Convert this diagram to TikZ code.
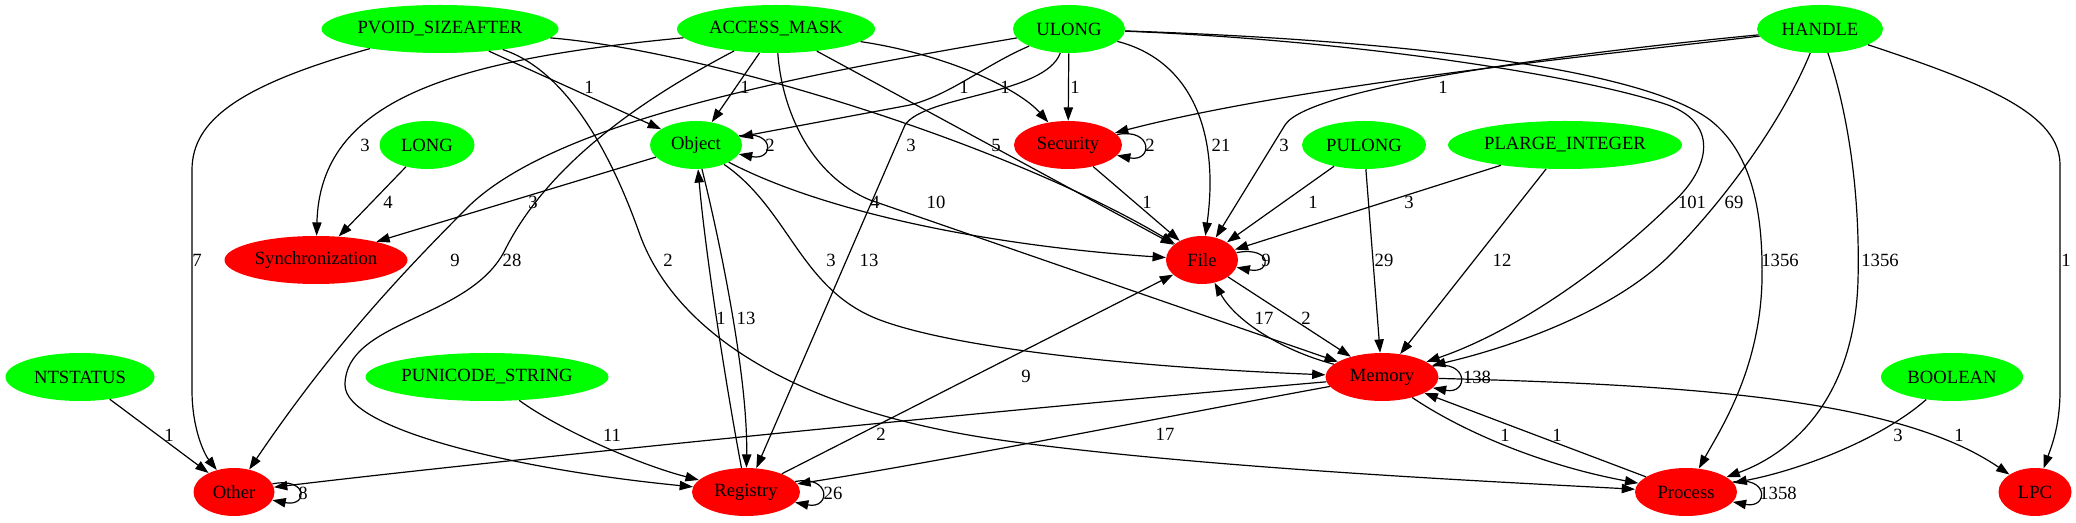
\documentclass[tikz,border=0pt]{standalone}
\usepackage{fontspec}
\setmainfont{Liberation Serif}
\usetikzlibrary{arrows.meta,shapes.geometric}
\definecolor{gvgreen}{RGB}{0,255,0}
\definecolor{gvred}{RGB}{255,0,0}
\begin{document}
\begin{tikzpicture}[x=0.75pt,y=-0.75pt,
  every node/.style={font=\rmfamily\fontsize{14}{16}\selectfont},
  tnode/.style={ellipse, inner sep=0pt, minimum height=36pt},
  src/.style={tnode, fill=gvgreen},
  cat/.style={tnode, fill=gvred},
  e/.style={line width=0.9pt, -{Triangle[length=10pt,width=7pt]}},
  lbl/.style={inner sep=0pt}]
\useasboundingbox (0,0) rectangle (2076,523);

% nodes
\node[src, minimum width=177.75pt] (pvoid)   at (440,29)  {\makebox[0pt]{PVOID\_SIZEAFTER}};
\node[src, minimum width=148.5pt]  (access)  at (776,29)  {\makebox[0pt]{ACCESS\_MASK}};
\node[src, minimum width=84pt]     (ulong)   at (1069,29) {\makebox[0pt]{ULONG}};
\node[src, minimum width=94.5pt]   (handle)  at (1820,29) {\makebox[0pt]{HANDLE}};
\node[src, minimum width=71.25pt]  (long)    at (427,145) {\makebox[0pt]{LONG}};
\node[src, minimum width=69pt]     (object)  at (696,145) {\makebox[0pt]{Object}};
\node[cat, minimum width=81pt]     (security) at (1068,145) {\makebox[0pt]{Security}};
\node[src, minimum width=93pt]     (pulong)  at (1364,145) {\makebox[0pt]{PULONG}};
\node[src, minimum width=175.5pt]  (plarge)  at (1565,145) {\makebox[0pt]{PLARGE\_INTEGER}};
\node[cat, minimum width=137.25pt] (sync)    at (316,260) {\makebox[0pt]{Synchronization}};
\node[cat, minimum width=54pt]     (file)    at (1202,260) {\makebox[0pt]{File}};
\node[src, minimum width=111.75pt] (ntstatus) at (80,377) {\makebox[0pt]{NTSTATUS}};
\node[src, minimum width=182.25pt] (punicode) at (487,377) {\makebox[0pt]{PUNICODE\_STRING}};
\node[cat, minimum width=84.75pt]  (memory)  at (1382,377) {\makebox[0pt]{Memory}};
\node[src, minimum width=106.5pt]  (boolean) at (1952,377) {\makebox[0pt]{BOOLEAN}};
\node[cat, minimum width=60.75pt]  (other)   at (234,492) {\makebox[0pt]{Other}};
\node[cat, minimum width=81pt]     (registry) at (746,492) {\makebox[0pt]{Registry}};
\node[cat, minimum width=76.5pt]   (process) at (1686,492) {\makebox[0pt]{Process}};
\node[cat, minimum width=54.75pt]  (lpc)     at (2035,492) {\makebox[0pt]{LPC}};

% PVOID_SIZEAFTER
\draw[e] (pvoid) .. controls (240,85) and (192,120) .. (192,170) -- (192,390) .. controls (192,430) and (205,455) .. (other);
\draw[e] (pvoid) -- (object);
\draw[e] (pvoid) .. controls (700,50) and (1000,140) .. (file);
\draw[e] (pvoid) .. controls (565,70) and (610,150) .. (640,235) .. controls (675,330) and (790,410) .. (1000,440) .. controls (1200,468) and (1500,482) .. (process);
% ACCESS_MASK
\draw[e] (access) .. controls (450,60) and (320,100) .. (sync);
\draw[e] (access) -- (object);
\draw[e] (access) .. controls (950,55) and (1020,90) .. (security);
\draw[e] (access) -- (file);
\draw[e] (access) .. controls (782,110) and (810,175) .. (870,200) -- (memory);
\draw[e] (access) .. controls (650,95) and (550,160) .. (505,250) .. controls (470,320) and (345,320) .. (345,385) .. controls (345,430) and (520,470) .. (registry);
% ULONG
\draw[e] (ulong) .. controls (985,65) and (950,95) .. (910,105) -- (object);
\draw[e] (ulong) .. controls (800,75) and (560,120) .. (470,205) .. controls (400,275) and (330,350) .. (other);
\draw[e] (ulong) .. controls (1045,95) and (925,95) .. (905,125) -- (registry);
\draw[e] (ulong) -- (security);
\draw[e] (ulong) .. controls (1190,60) and (1220,130) .. (file);
\draw[e] (ulong) .. controls (1350,40) and (1580,75) .. (1668,105) .. controls (1722,125) and (1708,172) .. (1670,205) .. controls (1612,262) and (1520,330) .. (memory);
\draw[e] (ulong) .. controls (1450,42) and (1650,75) .. (1710,120) .. controls (1755,155) and (1763,220) .. (1762,280) .. controls (1760,370) and (1720,430) .. (process);
% HANDLE
\draw[e] (handle) .. controls (1600,55) and (1300,85) .. (security);
\draw[e] (handle) .. controls (1600,50) and (1310,85) .. (1285,125) -- (file);
\draw[e] (handle) .. controls (1785,115) and (1730,195) .. (1670,255) .. controls (1610,315) and (1500,350) .. (memory);
\draw[e] (handle) .. controls (1850,120) and (1860,200) .. (1858,280) .. controls (1855,390) and (1800,450) .. (process);
\draw[e] (handle) .. controls (1990,85) and (2060,115) .. (2060,165) -- (2060,390) .. controls (2060,425) and (2052,445) .. (lpc);
% others
\draw[e] (pulong) -- (file);
\draw[e] (pulong) -- (memory);
\draw[e] (plarge) -- (file);
\draw[e] (plarge) -- (memory);
\draw[e] (long) -- (sync);
\draw[e] (object) -- (sync);
\draw[e] (object) .. controls (820,210) and (980,245) .. (file);
\draw[e] (object) .. controls (790,210) and (800,290) .. (880,320) .. controls (960,350) and (1150,368) .. (memory);
\draw[e] (object) .. controls (722,250) and (748,380) .. (registry);
\draw[e] (registry) .. controls (725,380) and (705,250) .. (object);
\draw[e] (security) -- (file);
\draw[e] (file) -- (memory);
\draw[e] (memory) .. controls (1280,350) and (1235,320) .. (file);
\draw[e] (memory) .. controls (1000,410) and (500,460) .. (other);
\draw[e] (memory) .. controls (1200,410) and (950,460) .. (registry);
\draw[e] (memory) .. controls (1460,430) and (1540,465) .. (process);
\draw[e] (process) -- (memory);
\draw[e] (memory) .. controls (1700,385) and (1900,400) .. (lpc);
\draw[e] (boolean) .. controls (1880,440) and (1800,470) .. (process);
\draw[e] (ntstatus) -- (other);
\draw[e] (punicode) .. controls (560,430) and (640,465) .. (registry);
\draw[e] (registry) -- (file);
% self loops
\draw[e] (object.12) .. controls +(36,-7) and +(36,7) .. (object.-12);
\draw[e] (security.12) .. controls +(36,-7) and +(36,7) .. (security.-12);
\draw[e] (file.12) .. controls +(36,-7) and +(36,7) .. (file.-12);
\draw[e] (memory.12) .. controls +(36,-7) and +(36,7) .. (memory.-12);
\draw[e] (other.12) .. controls +(36,-7) and +(36,7) .. (other.-12);
\draw[e] (registry.12) .. controls +(36,-7) and +(36,7) .. (registry.-12);
\draw[e] (process.12) .. controls +(36,-7) and +(36,7) .. (process.-12);

% labels
\node[lbl] (t01) at (197,260) {7};
\node[lbl] (t02) at (589,87) {1};
\node[lbl] (t03) at (911,145) {3};
\node[lbl] (t04) at (668,260) {2};
\node[lbl] (t05) at (365,145) {3};
\node[lbl] (t06) at (745,87) {1};
\node[lbl] (t07) at (1005,87) {1};
\node[lbl] (t08) at (996,145) {5};
\node[lbl] (t09) at (936,202) {10};
\node[lbl] (t10) at (512,260) {28};
\node[lbl] (t11) at (964,87) {1};
\node[lbl] (t12) at (455,260) {9};
\node[lbl] (t13) at (869,260) {13};
\node[lbl] (t14) at (1075,87) {1};
\node[lbl] (t15) at (1221,145) {21};
\node[lbl] (t16) at (1692,202) {101};
\node[lbl] (t17) at (1780,260) {1356};
\node[lbl] (t18) at (1443,87) {1};
\node[lbl] (t19) at (1284,145) {3};
\node[lbl] (t20) at (1734,202) {69};
\node[lbl] (t21) at (1880,260) {1356};
\node[lbl] (t22) at (2066,260) {1};
\node[lbl] (t23) at (1313,202) {1};
\node[lbl] (t24) at (1384,260) {29};
\node[lbl] (t25) at (1409,202) {3};
\node[lbl] (t26) at (1502,260) {12};
\node[lbl] (t27) at (388,202) {4};
\node[lbl] (t28) at (533,202) {3};
\node[lbl] (t29) at (875,202) {4};
\node[lbl] (t30) at (831,260) {3};
\node[lbl] (t31) at (746,318) {13};
\node[lbl] (t32) at (721,318) {1};
\node[lbl] (t33) at (1147,202) {1};
\node[lbl] (t34) at (1306,318) {2};
\node[lbl] (t35) at (1264,318) {17};
\node[lbl] (t36) at (881,434) {2};
\node[lbl] (t37) at (1165,434) {17};
\node[lbl] (t38) at (1505,435) {1};
\node[lbl] (t39) at (1557,435) {1};
\node[lbl] (t40) at (1959,435) {1};
\node[lbl] (t41) at (1898,435) {3};
\node[lbl] (t42) at (169,435) {1};
\node[lbl] (t43) at (612,435) {11};
\node[lbl] (t44) at (1026,376) {9};
% loop labels
\node[lbl] (t45) at (770,145) {2};
\node[lbl] (t46) at (1150,145) {2};
\node[lbl] (t47) at (1266,260) {9};
\node[lbl] (t48) at (1477,377) {138};
\node[lbl] (t49) at (303,493) {8};
\node[lbl] (t50) at (833,493) {26};
\node[lbl] (t51) at (1778,493) {1358};
\end{tikzpicture}
\end{document}
